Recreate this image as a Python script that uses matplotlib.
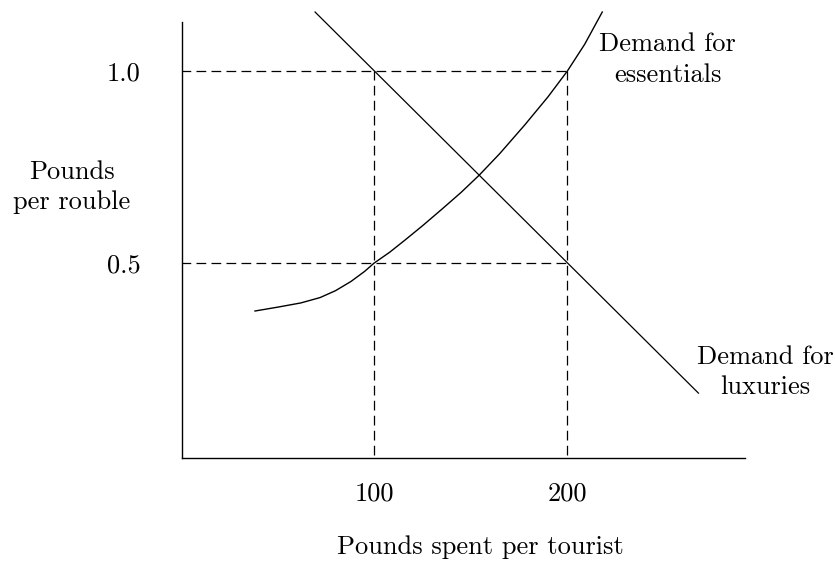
import matplotlib
matplotlib.use("Agg")
import matplotlib.pyplot as plt

plt.rcParams['font.family'] = ['cmr10', 'DejaVu Serif']
plt.rcParams['lines.scale_dashes'] = False

# demand for luxuries (straight line)
lux_x = [69.4, 267.9]
lux_y = [1.154, 0.161]

# demand for essentials (convex curve)
ess_x = [38.3, 50, 62, 72, 80, 88, 95, 100, 108, 116, 125, 135, 145,
         154.4, 165, 178, 190, 200, 209, 218.1]
ess_y = [0.375, 0.385, 0.396, 0.410, 0.428, 0.452, 0.478, 0.500, 0.528,
         0.560, 0.597, 0.640, 0.684, 0.729, 0.785, 0.860, 0.933, 1.000,
         1.070, 1.154]

# reference levels
ref_x = [100, 200]
ref_y = [0.5, 1.0]
x_labels = ['100', '200']
y_labels = ['0.5', '1.0']

fig = plt.figure(figsize=(8.35, 5.64), dpi=100)
ax = fig.add_axes([182/835, 1 - 458/564, (745-182)/835, (458-22)/564])
ax.set_xlim(0.5, 292)
ax.set_ylim(-0.008, 1.128)

for s in ['top', 'right']:
    ax.spines[s].set_visible(False)
for s in ['left', 'bottom']:
    ax.spines[s].set_linewidth(1.0)

dash = (0, (7.0, 3.8))
for yv in ref_y:
    ax.plot([0, max(ref_x)], [yv, yv], color='black', lw=0.9, linestyle=dash)
for xv in ref_x:
    ax.plot([xv, xv], [0, max(ref_y)], color='black', lw=0.9, linestyle=dash)

ax.plot(lux_x, lux_y, color='black', lw=0.9, clip_on=False)
ax.plot(ess_x, ess_y, color='black', lw=1.0, clip_on=False)

ax.set_xticks(ref_x)
ax.set_xticklabels(x_labels)
ax.set_yticks(ref_y)
ax.set_yticklabels(y_labels)
ax.tick_params(axis='x', length=0, pad=17, labelsize=19)
ax.tick_params(axis='y', length=0, pad=30, labelsize=19)

ax.text(302.6, 0.216, 'Demand for\nluxuries', ha='center', va='center',
        fontsize=19, linespacing=1.3)
ax.text(252, 1.030, 'Demand for\nessentials', ha='center', va='center',
        fontsize=19, linespacing=1.38)

fig.text(72/835, 1 - 187/564, 'Pounds\nper rouble', ha='center', va='center',
         fontsize=19, linespacing=1.3)
fig.text(480/835, 1 - 547/564, 'Pounds spent per tourist', ha='center', va='center',
         fontsize=19)

fig.savefig('out.png', dpi=100)
